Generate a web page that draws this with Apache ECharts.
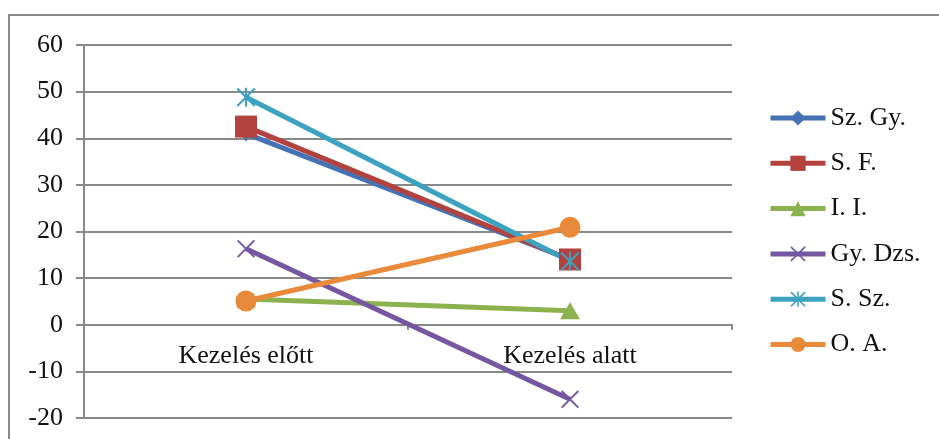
<!DOCTYPE html>
<html>
<head>
<meta charset="utf-8">
<script src="https://cdn.jsdelivr.net/npm/echarts@6/dist/echarts.min.js"></script>
<style>
  html, body { margin: 0; padding: 0; background: #fff; }
  #chart { width: 939px; height: 439px; }
</style>
</head>
<body>
<div id="chart"></div>
<script>
// Categories and per-person values
const categories = ['Kezelés előtt', 'Kezelés alatt'];
const seriesNames = ['Sz. Gy.', 'S. F.', 'I. I.', 'Gy. Dzs.', 'S. Sz.', 'O. A.'];
const szGy  = [41, 14];
const sF    = [42.5, 14];
const iI    = [5.5, 3];
const gyDzs = [16.3, -16];
const sSz   = [48.8, 13.6];
const oA    = [5.1, 20.9];
const yTicks = [-20, -10, 0, 10, 20, 30, 40, 50, 60];

const seriesValues = [szGy, sF, iI, gyDzs, sSz, oA];
const colors = ['#4472B4', '#B3423F', '#8CB24F', '#7457A0', '#3DA2BF', '#E98A3B'];

// Marker shapes
const crossPath = 'path://M1.5,0 L10,8.5 L18.5,0 L20,1.5 L11.5,10 L20,18.5 L18.5,20 L10,11.5 L1.5,20 L0,18.5 L8.5,10 L0,1.5 Z';
const starPath = 'path://M1.5,0 L10,8.5 L18.5,0 L20,1.5 L11.5,10 L20,18.5 L18.5,20 L10,11.5 L1.5,20 L0,18.5 L8.5,10 L0,1.5 Z M9,0 L11,0 L11,20 L9,20 Z';
const symbols = ['diamond', 'rect', 'triangle', crossPath, starPath, 'circle'];
const symbolSizes = [[13, 16], 22, [20, 17], 18, 19, 21];

const font = 'Liberation Serif';
const gray = '#898989';
const textColor = '#111';

const chart = echarts.init(document.getElementById('chart'), null, { renderer: 'canvas' });

chart.setOption({
  animation: false,
  backgroundColor: '#ffffff',
  graphic: [{
    type: 'rect',
    shape: { x: 9, y: 15, width: 1000, height: 500 },
    style: { fill: 'none', stroke: gray, lineWidth: 2 },
    silent: true
  }],
  grid: { left: 84, right: 207, top: 45, bottom: 21, containLabel: false, outerBoundsMode: 'none' },
  legend: {
    orient: 'vertical',
    left: 768,
    top: 105,
    padding: 0,
    itemWidth: 55,
    itemHeight: 19,
    itemGap: 19.3,
    lineStyle: { width: 5 },
    textStyle: { fontFamily: font, fontSize: 26, color: textColor },
    data: seriesNames
  },
  xAxis: [{
    // zero line with boundary ticks
    type: 'category',
    data: categories,
    boundaryGap: true,
    axisLine: { show: true, onZero: true, lineStyle: { color: gray, width: 2 } },
    axisTick: { show: true, length: 5, inside: false, lineStyle: { color: gray, width: 2 } },
    axisLabel: { show: false },
    splitLine: { show: false }
  }, {
    // category names just below the zero line
    type: 'category',
    data: categories,
    boundaryGap: true,
    position: 'bottom',
    offset: -94,
    axisLine: { show: false, onZero: false },
    axisTick: { show: false },
    axisLabel: { fontFamily: font, fontSize: 26, color: textColor, margin: 19 },
    splitLine: { show: false }
  }],
  yAxis: {
    type: 'value',
    min: yTicks[0],
    max: yTicks[yTicks.length - 1],
    interval: 10,
    axisLine: { show: true, lineStyle: { color: gray, width: 2 } },
    axisTick: { show: true, length: 8, inside: false, lineStyle: { color: gray, width: 2 } },
    axisLabel: { fontFamily: font, fontSize: 26, color: textColor, margin: 21 },
    splitLine: { show: true, lineStyle: { color: gray, width: 2 } }
  },
  series: seriesNames.map((name, i) => ({
    name: name,
    type: 'line',
    xAxisIndex: 0,
    data: seriesValues[i],
    symbol: symbols[i],
    symbolSize: symbolSizes[i],
    showAllSymbol: true,
    lineStyle: { color: colors[i], width: 5 },
    itemStyle: { color: colors[i], borderWidth: 0 },
    emphasis: { disabled: true }
  }))
});
</script>
</body>
</html>
